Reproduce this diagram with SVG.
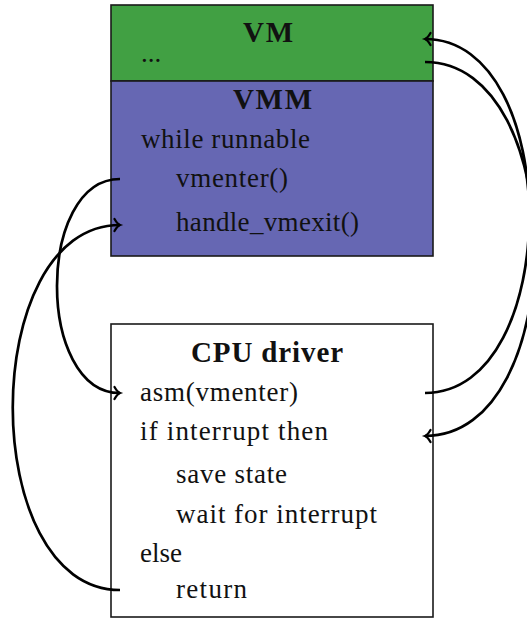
<svg xmlns="http://www.w3.org/2000/svg" width="527" height="618" viewBox="0 0 527 618">
<style>
.box{stroke:#1a1a1a;stroke-width:1.6}
.t{font-family:"Liberation Serif","Times New Roman",serif;font-size:27px;fill:#111}
.b{font-weight:bold;font-size:29px}
.c{fill:none;stroke:#000;stroke-width:2.7}
</style>
<defs>
<marker id="arr" markerUnits="userSpaceOnUse" viewBox="-8 -8 10 16" markerWidth="10" markerHeight="16" refX="0" refY="0" orient="auto" overflow="visible">
<path d="M-5.5,-6 C-3.5,-2.5 -1.8,-0.7 0,0 C-1.8,0.7 -3.5,2.5 -5.5,6" fill="none" stroke="#000" stroke-width="2.3" stroke-linecap="round"/>
</marker>
</defs>
<rect width="527" height="618" fill="#fff"/>
<g id="vm">
<rect class="box" x="111" y="5" width="322" height="76" fill="#41a043"/>
<text class="t b" x="243" y="42" textLength="50">VM</text>
<text class="t" x="141" y="62">...</text>
</g>
<g id="vmm">
<rect class="box" x="111" y="81" width="322" height="175" fill="#6667b3"/>
<text class="t b" x="233" y="109" textLength="79">VMM</text>
<text class="t" x="141" y="148" textLength="169">while runnable</text>
<text class="t" x="176" y="187" textLength="112">vmenter()</text>
<text class="t" x="176" y="231" textLength="183">handle_vmexit()</text>
</g>
<g id="cpu">
<rect class="box" x="111" y="324" width="322" height="293" fill="#fff"/>
<text class="t b" x="191" y="362" textLength="152">CPU driver</text>
<text class="t" x="140" y="401" textLength="158">asm(vmenter)</text>
<text class="t" x="140" y="440" textLength="188">if interrupt then</text>
<text class="t" x="176" y="483" textLength="111">save state</text>
<text class="t" x="176" y="523" textLength="201">wait for interrupt</text>
<text class="t" x="140" y="562" textLength="42">else</text>
<text class="t" x="176" y="598" textLength="71">return</text>
</g>
<g id="connectors">
<path class="c" d="M120,179 C36,179 36,393 120,393" marker-end="url(#arr)"/>
<path class="c" d="M120,590 C-23,590 -23,225 120,225" marker-end="url(#arr)"/>
<path class="c" d="M425,393 C564,393 564,39 425,39" marker-end="url(#arr)"/>
<path class="c" d="M425,62 C571,62 571,436 425,436" marker-end="url(#arr)"/>
</g>
</svg>
